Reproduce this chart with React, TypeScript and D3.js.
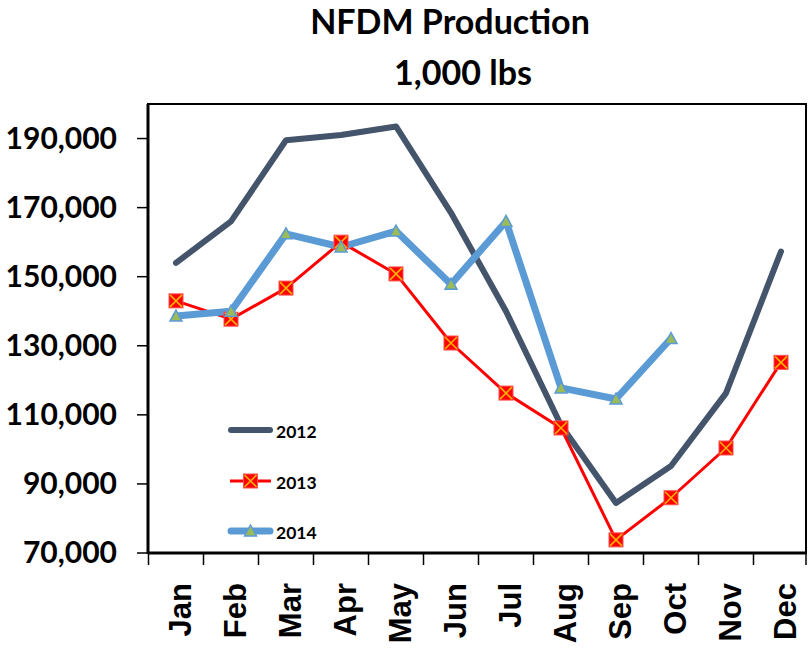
import React from "react";
import * as d3 from "d3";

const months = ["Jan", "Feb", "Mar", "Apr", "May", "Jun", "Jul", "Aug", "Sep", "Oct", "Nov", "Dec"];
const v2012 = [154000, 166000, 189500, 191000, 193500, 168500, 140000, 107000, 84500, 95200, 116300, 157300];
const v2013 = [143000, 137700, 146700, 160000, 150800, 130800, 116300, 106200, 73800, 86000, 100400, 125200];
const v2014 = [138600, 140000, 162400, 158600, 163200, 147800, 166000, 117800, 114600, 132100];
const yTicks = [70000, 90000, 110000, 130000, 150000, 170000, 190000];
const titleLines = ["NFDM Production", "1,000 lbs"];
const legendItems = ["2012", "2013", "2014"];

const W = 808;
const H = 657;
const L = 148;
const R = 806;
const T = 104;
const B = 553;

const C2012 = "#44546A";
const C2013 = "#FF0000";
const C2014 = "#5B9BD5";

export default function App() {
  const x = d3.scaleBand<string>().domain(months).range([148.5, 808.5]);
  const y = d3.scaleLinear().domain([70000, 200000]).range([B, T]);
  const cx = (i: number) => (x(months[i]) as number) + x.bandwidth() / 2;
  const line = d3
    .line<number>()
    .x((_, i) => cx(i))
    .y((d) => y(d));
  const fmt = d3.format(",");
  const calibri = "Lato, 'Open Sans', sans-serif";
  const arial = "'Liberation Sans', Arial, sans-serif";

  const square = (px: number, py: number, key: string) => (
    <g key={key}>
      <rect x={px - 7} y={py - 7} width={14} height={14} fill={C2013} stroke="#FF5050" strokeWidth={1} />
      <path d={`M${px - 6},${py - 6}L${px + 6},${py + 6}M${px + 6},${py - 6}L${px - 6},${py + 6}`} stroke="#FFB000" strokeWidth={1.6} />
    </g>
  );
  const tri = (px: number, py: number, key: string) => (
    <path
      key={key}
      d={`M${px},${py - 6}L${px + 6},${py + 5}L${px - 6},${py + 5}Z`}
      fill="#9BBB59"
      stroke={C2014}
      strokeWidth={1.5}
      strokeLinejoin="miter"
    />
  );

  const bandTicks = d3.range(months.length + 1).map((i) => 148.5 + i * x.bandwidth());

  return (
    <svg width={W} height={H} style={{ position: "absolute", left: 0, top: 0, background: "#fff" }}>
      <rect x={0} y={0} width={W} height={H} fill="#fff" />
      {/* title */}
      <text x={450} y={34} textAnchor="middle" fontFamily={calibri} fontWeight="bold" fontSize={34} fill="#000">
        {titleLines[0]}
      </text>
      <text x={463} y={85} textAnchor="middle" fontFamily={calibri} fontWeight="bold" fontSize={34} fill="#000">
        {titleLines[1]}
      </text>

      {/* frame */}
      <rect x={L} y={T} width={R - L} height={B - T} fill="none" stroke="#000" strokeWidth={2} />
      <line x1={L} x2={L} y1={T} y2={B + 1} stroke="#000" strokeWidth={3} />
      <line x1={L} x2={R} y1={B} y2={B} stroke="#000" strokeWidth={3} />

      {/* y axis */}
      {yTicks.map((t) => (
        <g key={t}>
          <line x1={137} x2={L} y1={y(t)} y2={y(t)} stroke="#000" strokeWidth={1.5} />
          <text x={117} y={y(t) + 10} textAnchor="end" fontFamily={calibri} fontWeight="bold" fontSize={30} fill="#000">
            {fmt(t)}
          </text>
        </g>
      ))}

      {/* x axis ticks */}
      {bandTicks.map((t, i) => (
        <line key={i} x1={Math.min(t, R)} x2={Math.min(t, R)} y1={B} y2={565} stroke="#000" strokeWidth={1.5} />
      ))}
      {months.map((m, i) => (
        <text
          key={m}
          transform={`translate(${cx(i) + 15},583) rotate(-90)`}
          textAnchor="end"
          fontFamily={arial}
          fontWeight="bold"
          fontSize={31}
          fill="#000"
        >
          {m}
        </text>
      ))}

      {/* series */}
      <path d={line(v2012) || ""} fill="none" stroke={C2012} strokeWidth={6} strokeLinecap="round" strokeLinejoin="round" />
      <path d={line(v2013) || ""} fill="none" stroke={C2013} strokeWidth={3} strokeLinejoin="round" />
      <path d={line(v2014) || ""} fill="none" stroke={C2014} strokeWidth={7} strokeLinecap="round" strokeLinejoin="round" />
      {v2013.map((v, i) => square(cx(i), y(v), "s" + i))}
      {v2014.map((v, i) => tri(cx(i), y(v), "t" + i))}

      {/* legend */}
      <line x1={231} x2={270} y1={430} y2={430} stroke={C2012} strokeWidth={6} strokeLinecap="round" />
      <line x1={230} x2={271} y1={481} y2={481} stroke={C2013} strokeWidth={3} />
      {square(250.5, 481, "ls")}
      <line x1={231} x2={270} y1={531} y2={531} stroke={C2014} strokeWidth={7} strokeLinecap="round" />
      {tri(250.5, 531, "lt")}
      {legendItems.map((s, i) => (
        <text key={s} x={276} y={438 + i * 50.5} fontFamily={calibri} fontWeight="bold" fontSize={17.5} fill="#000">
          {s}
        </text>
      ))}
    </svg>
  );
}
